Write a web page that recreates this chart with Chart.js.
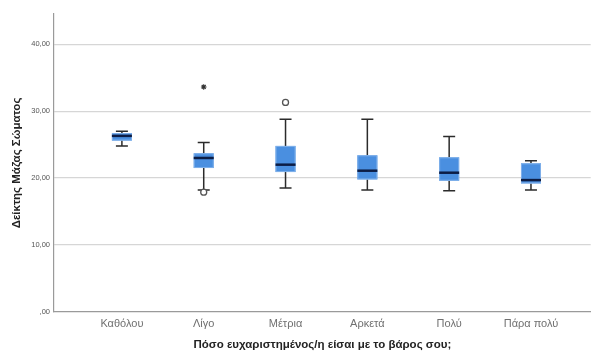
<!DOCTYPE html>
<html>
<head>
<meta charset="utf-8">
<script src="https://cdn.jsdelivr.net/npm/chart.js@4"></script>
<style>
  html, body { margin: 0; padding: 0; background: #fff; }
  #wrap { width: 596px; height: 352px; }
</style>
</head>
<body>
<div id="wrap"><canvas id="chart-bmi" width="596" height="352"></canvas></div>
<script>
'use strict';

/* Data */
const categories = ['Καθόλου', 'Λίγο', 'Μέτρια', 'Αρκετά', 'Πολύ', 'Πάρα πολύ'];
const whiskerLow  = [24.8, 18.2, 18.5, 18.2, 18.1, 18.2];
const q1          = [25.6, 21.5, 20.9, 19.8, 19.6, 19.2];
const median      = [26.3, 23.0, 22.0, 21.1, 20.8, 19.7];
const q3          = [26.7, 23.7, 24.8, 23.4, 23.1, 22.2];
const whiskerHigh = [27.0, 25.3, 28.8, 28.8, 26.2, 22.6];
const outliersCircle = [{ x: 2, y: 17.9 }, { x: 3, y: 31.3 }];
const outliersStar   = [{ x: 2, y: 33.6 }];
const yTicks = [0, 10, 20, 30, 40];

const BOX_FILL = '#4a8fe0';
const MEDIAN = '#0c1d45';
const WHISKER = '#2b2b2b';

/* Box & whisker drawing through the chart's scales */
const boxPlugin = {
  id: 'boxes',
  beforeDatasetsDraw(chart) {
    const { ctx, scales: { x, y } } = chart;
    ctx.save();
    categories.forEach((c, i) => {
      const cx = x.getPixelForValue(i + 1);
      const half = 10, cap = 6;
      const yLo = y.getPixelForValue(whiskerLow[i]);
      const yHi = y.getPixelForValue(whiskerHigh[i]);
      const yQ1 = y.getPixelForValue(q1[i]);
      const yQ3 = y.getPixelForValue(q3[i]);
      const yMed = y.getPixelForValue(median[i]);

      ctx.strokeStyle = WHISKER;
      ctx.lineWidth = 1.5;
      ctx.beginPath();
      ctx.moveTo(cx, yHi); ctx.lineTo(cx, yQ3);
      ctx.moveTo(cx, yQ1); ctx.lineTo(cx, yLo);
      ctx.moveTo(cx - cap, yHi); ctx.lineTo(cx + cap, yHi);
      ctx.moveTo(cx - cap, yLo); ctx.lineTo(cx + cap, yLo);
      ctx.stroke();

      ctx.fillStyle = BOX_FILL;
      ctx.fillRect(cx - half, yQ3, half * 2, yQ1 - yQ3);
      ctx.strokeStyle = '#7fb0ea';
      ctx.lineWidth = 1;
      ctx.strokeRect(cx - half + 0.5, yQ3 + 0.5, half * 2 - 1, yQ1 - yQ3 - 1);

      ctx.strokeStyle = MEDIAN;
      ctx.lineWidth = 2.5;
      ctx.beginPath();
      ctx.moveTo(cx - half, yMed); ctx.lineTo(cx + half, yMed);
      ctx.stroke();
    });
    ctx.restore();
  }
};

const FONT = "'Liberation Sans', Arial, sans-serif";

new Chart(document.getElementById('chart-bmi'), {
  type: 'scatter',
  data: {
    datasets: [
      {
        label: 'outliers',
        data: outliersCircle,
        pointStyle: 'circle',
        pointRadius: 3,
        pointBackgroundColor: '#fff',
        pointBorderColor: '#555',
        pointBorderWidth: 1.3,
      },
      {
        label: 'extremes',
        data: outliersStar,
        pointStyle: 'star',
        pointRadius: 2.8,
        pointBorderColor: '#333',
        pointBorderWidth: 1.1,
      }
    ]
  },
  options: {
    responsive: false,
    animation: false,
    layout: { padding: { top: 14, right: 4, left: 10, bottom: 0 } },
    plugins: { legend: { display: false }, tooltip: { enabled: false } },
    scales: {
      x: {
        type: 'linear',
        min: 0.17, max: 6.73,
        afterBuildTicks: s => { s.ticks = categories.map((c, i) => ({ value: i + 1 })); },
        afterFit: s => { s.height = 40; },
        grid: { display: false, drawTicks: false },
        border: { color: '#9a9a9a', width: 1.2 },
        ticks: {
          color: '#707070',
          padding: 5,
          font: { family: FONT, size: 11 },
          callback: v => categories[v - 1] || ''
        },
        title: {
          display: true,
          text: 'Πόσο ευχαριστημένος/η είσαι με το βάρος σου;',
          color: '#222',
          font: { family: FONT, size: 11.5, weight: 'bold' },
          padding: { top: 4, bottom: 0 }
        }
      },
      y: {
        min: 0, max: 44.5,
        afterBuildTicks: s => { s.ticks = yTicks.map(v => ({ value: v })); },
        afterFit: s => { s.width = 44; },
        grid: {
          color: ctx => ctx.tick && ctx.tick.value === 0 ? 'rgba(0,0,0,0)' : '#d6d6d6',
          lineWidth: 1.2,
          drawTicks: false
        },
        border: { color: '#9a9a9a', width: 1.2 },
        ticks: {
          color: '#555',
          padding: 4,
          font: { family: FONT, size: 7.5 },
          callback: v => v === 0 ? ',00' : v + ',00'
        },
        title: {
          display: true,
          text: 'Δείκτης Μάζας Σώματος',
          color: '#222',
          font: { family: FONT, size: 11.5, weight: 'bold' },
          padding: { top: 0, bottom: 0 }
        }
      }
    }
  },
  plugins: [boxPlugin]
});
</script>
</body>
</html>
